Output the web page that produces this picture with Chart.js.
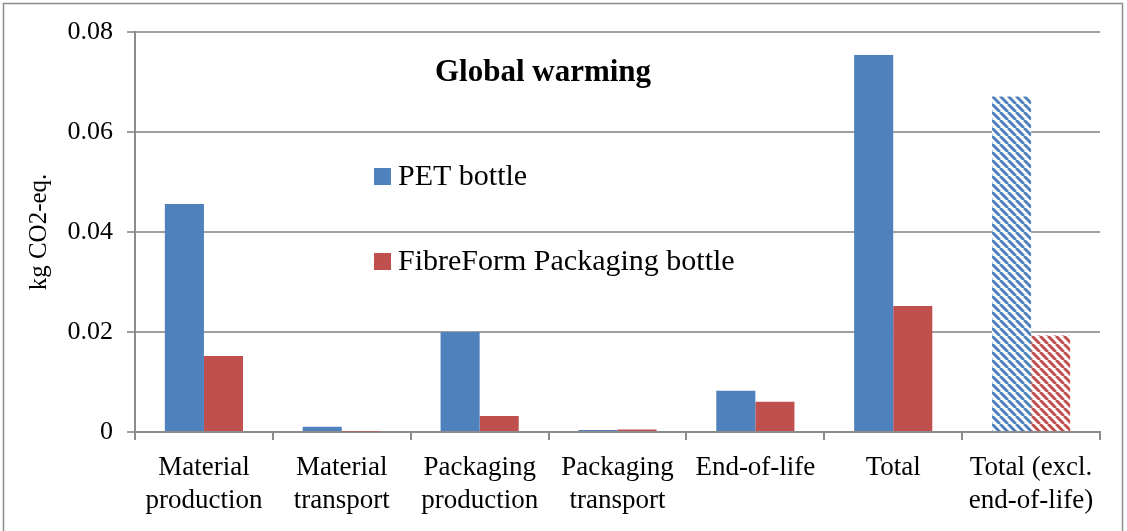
<!DOCTYPE html>
<html>
<head>
<meta charset="utf-8">
<script src="https://cdn.jsdelivr.net/npm/chart.js@4.4.1/dist/chart.umd.min.js"></script>
<style>
  html, body { margin: 0; padding: 0; background: #fff; }
  #wrap { width: 1127px; height: 531px; position: relative; }
</style>
</head>
<body>
<div id="wrap"><canvas id="gw-chart" width="1127" height="531"></canvas></div>
<script>
// chart data
const categories = [
  ["Material", "production"],
  ["Material", "transport"],
  ["Packaging", "production"],
  ["Packaging", "transport"],
  "End-of-life",
  "Total",
  ["Total (excl.", "end-of-life)"],
];
const petValues = [0.0456, 0.00105, 0.0200, 0.0004, 0.00826, 0.0754, 0.0671];
const fibreValues = [0.0152, 0.0001, 0.0032, 0.0005, 0.00606, 0.0252, 0.0193];
const seriesNames = ["PET bottle", "FibreForm Packaging bottle"];
const yTicks = [0, 0.02, 0.04, 0.06, 0.08];
const hatchedIndex = 6;

const blue = "#4F81BD";
const red = "#C0504D";
const serif = "'Liberation Serif', 'DejaVu Serif', serif";

// diagonal stripes for the last category
function stripes(color) {
  const size = 8;
  const c = document.createElement("canvas");
  c.width = size;
  c.height = size;
  const g = c.getContext("2d");
  g.fillStyle = "#fff";
  g.fillRect(0, 0, size, size);
  g.strokeStyle = color;
  g.lineWidth = 3;
  g.beginPath();
  for (let k = -1; k <= 1; k++) {
    g.moveTo(k * size, 0);
    g.lineTo(k * size + size, size);
  }
  g.stroke();
  return g.createPattern(c, "repeat");
}

function barColors(values, color) {
  const pat = stripes(color);
  return values.map((v, i) => (i === hatchedIndex ? pat : color));
}

// frame, title and legend drawn inside the plot
const overlay = {
  id: "overlay",
  beforeDraw(chart) {
    const ctx = chart.ctx;
    ctx.save();
    ctx.strokeStyle = "#8c8c8c";
    ctx.lineWidth = 1.5;
    ctx.strokeRect(3.5, 3.5, 1119, 540);
    ctx.restore();
  },
  afterDraw(chart) {
    const ctx = chart.ctx;
    ctx.save();
    ctx.fillStyle = "#000";
    ctx.textAlign = "center";
    ctx.textBaseline = "alphabetic";
    ctx.font = "bold 31px " + serif;
    ctx.fillText("Global warming", 543, 81);

    const rows = [[168, blue], [253, red]];
    ctx.textAlign = "left";
    ctx.font = "30px " + serif;
    chart.data.datasets.forEach((ds, i) => {
      const [y, col] = rows[i];
      ctx.fillStyle = col;
      ctx.fillRect(374, y, 17, 17);
      ctx.fillStyle = "#000";
      ctx.fillText(ds.label, 398, y + 17);
    });
    ctx.restore();
  },
};

const ctx = document.getElementById("gw-chart");
new Chart(ctx, {
  type: "bar",
  data: {
    labels: categories,
    datasets: [
      {
        label: seriesNames[0],
        data: petValues,
        backgroundColor: barColors(petValues, blue),
      },
      {
        label: seriesNames[1],
        data: fibreValues,
        backgroundColor: barColors(fibreValues, red),
      },
    ],
  },
  options: {
    responsive: false,
    animation: false,
    layout: { padding: { left: 0, top: 32, right: 27, bottom: 0 } },
    plugins: {
      legend: { display: false },
      tooltip: { enabled: false },
    },
    datasets: {
      bar: { categoryPercentage: 0.567, barPercentage: 1.0 },
    },
    scales: {
      x: {
        grid: {
          offset: true,
          drawOnChartArea: false,
          drawTicks: true,
          tickLength: 8,
          color: "#8c8c8c",
          lineWidth: 2,
        },
        border: { color: "#8c8c8c", width: 2 },
        ticks: {
          color: "#000",
          font: { family: serif, size: 27, lineHeight: 1.22 },
          padding: 11,
          maxRotation: 0,
          autoSkip: false,
        },
        afterFit(axis) { axis.height = 99; },
      },
      y: {
        min: yTicks[0],
        max: yTicks[yTicks.length - 1],
        afterBuildTicks(axis) { axis.ticks = yTicks.map((v) => ({ value: v })); },
        grid: {
          color: "#a0a0a0",
          lineWidth: 2,
          tickLength: 8,
        },
        border: { color: "#8c8c8c", width: 2 },
        ticks: {
          color: "#000",
          font: { family: serif, size: 26 },
          padding: 14,
          callback: (v) => String(v),
        },
        title: {
          display: true,
          text: "kg CO2-eq.",
          color: "#000",
          font: { family: serif, size: 25 },
          padding: { top: 24, bottom: 4 },
        },
        afterFit(axis) { axis.width = 135; },
      },
    },
  },
  plugins: [overlay],
});
</script>
</body>
</html>
